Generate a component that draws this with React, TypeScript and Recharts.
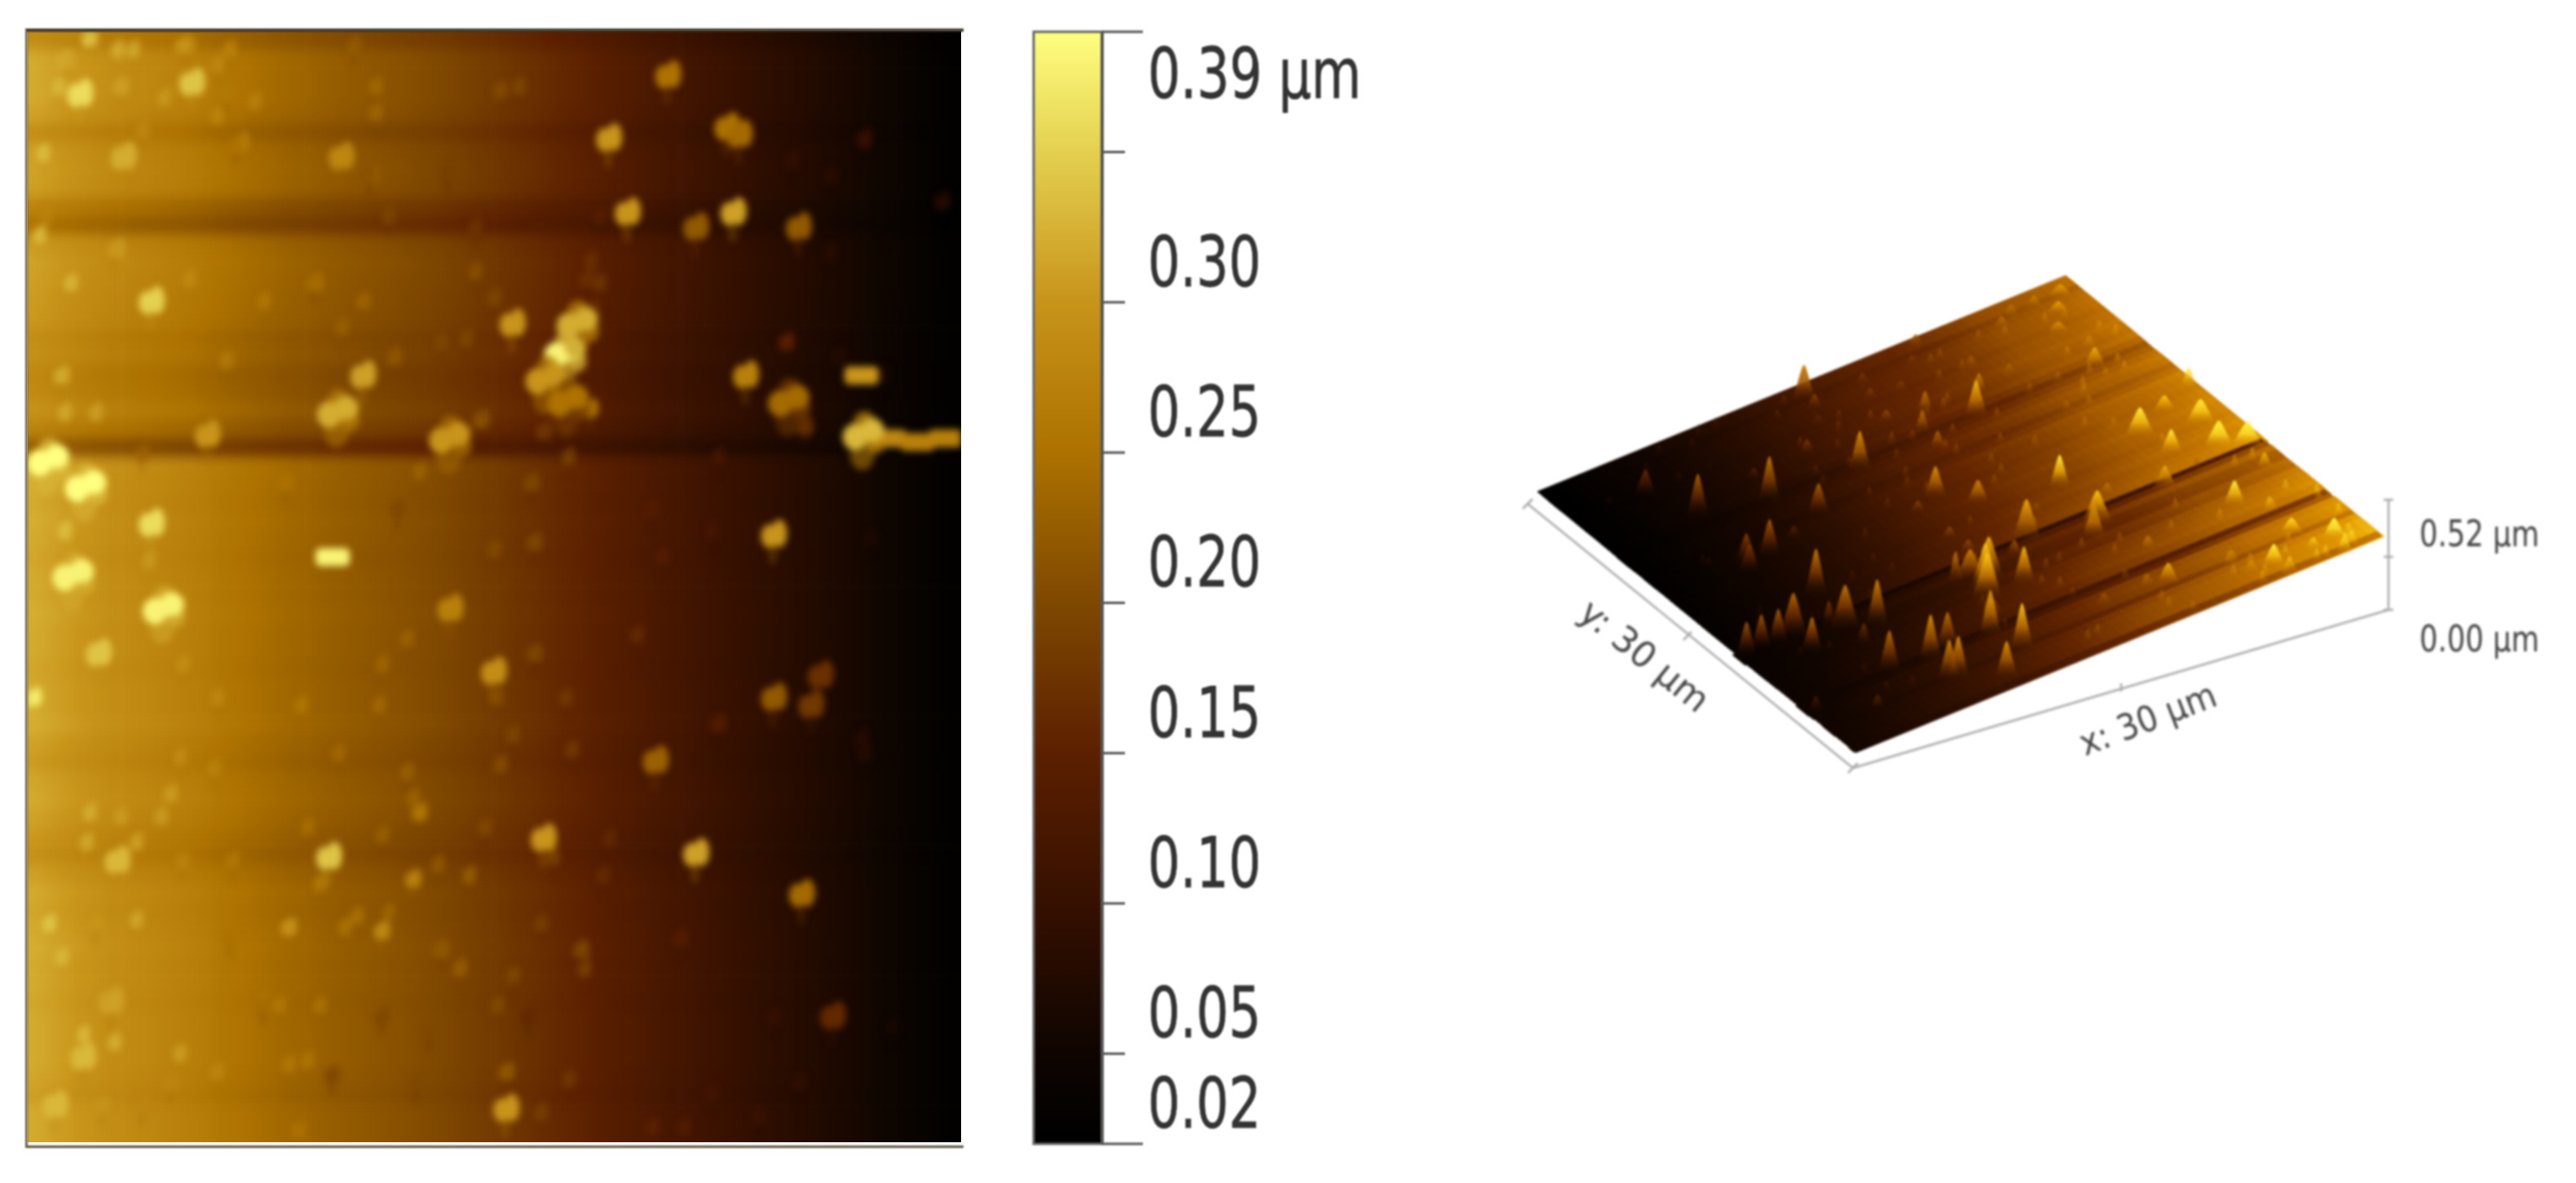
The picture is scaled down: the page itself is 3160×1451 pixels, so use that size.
import React from 'react';
import { BarChart, Bar, ScatterChart, Scatter, XAxis, YAxis, ReferenceLine, ReferenceDot } from 'recharts';

// height scale of the colour bar, um
const scaleLevels = [0.02, 0.05, 0.1, 0.15, 0.2, 0.25, 0.3, 0.35, 0.39];
const scaleColors = [
  [0, 0, 0], [14, 5, 0], [54, 16, 0], [92, 32, 0], [127, 72, 0],
  [173, 114, 0], [200, 148, 26], [228, 208, 80], [255, 255, 128],
];
// the 3D view is rendered with a more saturated palette
const viewColors = [
  [0, 0, 0], [20, 6, 0], [60, 20, 0], [100, 38, 0], [150, 78, 0],
  [190, 112, 0], [222, 148, 0], [250, 200, 20], [255, 240, 60],
];
const barTicks = [0.02, 0.05, 0.1, 0.15, 0.2, 0.25, 0.3, 0.35, 0.39];
const barRange = [{ name: 'height', range: [0.02, 0.39] }];

// height across the scan at a clean line, left to right (0..30 um)
const columnHeights = [
  0.318, 0.312, 0.306, 0.3, 0.295, 0.29, 0.286, 0.282, 0.278, 0.274,
  0.27, 0.264, 0.258, 0.253, 0.248, 0.243, 0.238, 0.234, 0.23, 0.226,
  0.222, 0.219, 0.215, 0.212, 0.208, 0.204, 0.2, 0.195, 0.19, 0.185,
  0.18, 0.175, 0.17, 0.164, 0.159, 0.154, 0.148, 0.142, 0.136, 0.13,
  0.125, 0.12, 0.115, 0.11, 0.105, 0.1, 0.095, 0.09, 0.085, 0.08,
  0.075, 0.07, 0.065, 0.06, 0.054, 0.048, 0.042, 0.036, 0.03, 0.024,
];

// brightness of each scan line, top to bottom
const lineLevels = [
  0.9, 1, 1, 1, 0.98, 0.91, 0.97, 0.98, 0.97, 0.86,
  0.78, 0.96, 0.98, 0.97, 0.96, 0.95, 0.91, 0.92, 0.88, 0.89,
  0.93, 0.86, 0.7, 1.02, 1.01, 1, 1.01, 1, 0.99, 1,
  1, 1.01, 1, 1, 0.99, 1, 1, 1.01, 0.98, 0.96,
  0.99, 1, 0.98, 0.95, 0.92, 0.97, 1, 0.99, 1, 1.01,
  1, 1, 0.99, 1, 1, 1, 0.99, 0.97, 1, 1,
];

// particles: x um, y um, peak height um
const clusters = [
  [17.3, 8.7, 0.38], [17.7, 7.9, 0.32], [16.7, 9.4, 0.3], [17.4, 10, 0.25], [10, 10.3, 0.32],
  [13.6, 11, 0.3], [1.9, 12.3, 0.39], [1.5, 14.7, 0.38], [4.4, 15.6, 0.38], [26.9, 10.9, 0.33],
  [24.5, 10, 0.24], [0.7, 11.6, 0.39],
];
const flakes = [
  [9.8, 14.2, 0.38], [26.8, 9.3, 0.3], [27.7, 11, 0.28], [28.6, 11.1, 0.27], [29.5, 11, 0.27],
];
const blobs = [
  [5.3, 1.4, 0.34], [1.7, 1.7, 0.36], [20.6, 1.2, 0.25], [22.5, 2.6, 0.25], [22.9, 2.8, 0.24],
  [18.7, 2.9, 0.3], [19.3, 4.9, 0.3], [22.7, 4.9, 0.31], [21.5, 5.3, 0.22], [24.8, 5.3, 0.22],
  [10.1, 3.4, 0.28], [3.1, 3.4, 0.32], [4, 7.3, 0.35], [15.6, 7.9, 0.3], [10.8, 9.3, 0.31],
  [23.1, 9.3, 0.27], [5.8, 10.9, 0.3], [4, 13.3, 0.36], [2.3, 16.8, 0.34],
  [15, 17.3, 0.29], [13.6, 15.6, 0.27], [24, 18, 0.22], [20.2, 19.7, 0.23], [16.6, 21.8, 0.3],
  [21.5, 22.2, 0.31], [9.7, 22.3, 0.34], [2.9, 22.4, 0.33], [24.9, 23.3, 0.24], [2.7, 26.2, 0.31],
  [25.9, 26.6, 0.16], [1.8, 27.7, 0.33], [0.9, 29, 0.33], [15.4, 29.1, 0.3], [25.5, 17.4, 0.17],
  [25.2, 18.2, 0.18], [24, 13.6, 0.3],
];
const specks = [
  [1.3, 0.8, 0.31], [3, 1.5, 0.31], [2, 0.2, 0.34], [5, 0.4, 0.3], [6.4, 1.7, 0.26],
  [6.7, 3.1, 0.25], [11, 3.9, 0.21], [13.5, 3.8, 0.19], [26.9, 2.9, 0.1], [29.4, 4.6, 0.08],
  [2.8, 5.9, 0.3], [9.2, 6.8, 0.24], [18, 6.7, 0.17], [24.4, 8.4, 0.15], [1.1, 9.3, 0.32],
  [18.1, 10.2, 0.26], [14.6, 10.5, 0.21], [16.6, 10.8, 0.18], [25, 10.7, 0.17], [16.2, 12.2, 0.2],
  [8.3, 12.2, 0.25], [16.3, 13.8, 0.2], [11.9, 12.9, 0.2], [0.2, 18, 0.38], [16.3, 16.8, 0.2],
  [22.2, 18.7, 0.14], [12.6, 21.1, 0.26], [12.4, 22.9, 0.28], [11.4, 24.3, 0.29], [8.4, 24.2, 0.3],
  [2.2, 24.1, 0.3], [21, 24.5, 0.14], [17.8, 24.8, 0.2], [13.3, 24.8, 0.22], [6.5, 24.5, 0.25],
  [4.6, 28.4, 0.28], [2.4, 29, 0.3], [15.4, 28.1, 0.22], [12.5, 28.4, 0.2], [9.8, 28.2, 0.2],
  [12.9, 27, 0.2], [11.4, 26.6, 0.2], [16.1, 26.6, 0.16], [7.6, 26.3, 0.24], [3.7, 29, 0.28],
  [8.7, 29.7, 0.25],
];
// faint marks: x um, y um, rise above the surface um
const faintMarks = [
  [2.9, 0.5, 0.04], [3.4, 0.5, 0.04], [5.2, 0.4, 0.04], [6.5, 0.5, 0.03], [10.5, 0.4, 0.03], [6.1, 0.9, 0.03],
  [1.2, 0.8, 0.04], [1, 1.5, 0.03], [4.4, 1.8, 0.03], [7.3, 1.9, 0.03], [11.2, 1.5, 0.03], [15.2, 1.6, 0.03],
  [15.8, 1.5, 0.03], [6.1, 2.3, 0.03], [11.2, 2.2, 0.03], [6.9, 3, 0.04], [0.5, 3.3, 0.04], [3.7, 2.7, 0.03],
  [11.1, 3.9, 0.04], [26.9, 3, 0.03], [25.8, 3.9, 0.02], [24.6, 3.5, 0.02], [11.6, 5, 0.03], [18.4, 5, 0.03],
  [0.6, 5, 0.03], [14.4, 5.3, 0.03], [2.9, 5.9, 0.05], [0.4, 5.5, 0.04], [25.8, 6, 0.02], [18.1, 6.2, 0.03],
  [5.2, 6.7, 0.03], [1.4, 6.8, 0.04], [9.3, 6.8, 0.04], [14.4, 6.5, 0.03], [18.4, 6.8, 0.04], [10.8, 7.3, 0.03],
  [7.6, 7.3, 0.03], [15, 7.2, 0.03], [10.1, 8, 0.03], [18.2, 7.5, 0.03], [14.1, 8.3, 0.03], [13.3, 8.4, 0.02],
  [11.8, 8.8, 0.03], [6.4, 8.9, 0.03], [24.4, 8.4, 0.03], [26.1, 8.8, 0.02], [1.2, 10.3, 0.04], [2.2, 10.3, 0.04],
  [14.5, 10.5, 0.04], [27.5, 9.3, 0.03], [3.7, 11.4, 0.03], [17.4, 11.5, 0.04], [12.6, 11.9, 0.03], [22.2, 11.5, 0.02],
  [20.1, 12.9, 0.02], [15, 14, 0.03], [20.4, 14.2, 0.02], [22, 13.5, 0.02], [27.1, 13.7, 0.02], [1.2, 13.5, 0.04],
  [3.9, 14.3, 0.03], [12.2, 16.4, 0.03], [19.6, 16.3, 0.04], [5, 17.1, 0.03], [11.4, 17.1, 0.03], [6.1, 18, 0.03],
  [8.8, 18.2, 0.03], [11.3, 18.2, 0.03], [15.1, 18, 0.03], [17.3, 18, 0.03], [15.6, 19, 0.03], [17.5, 19.4, 0.04],
  [4.9, 19.6, 0.03], [10, 19.5, 0.03], [6, 19.9, 0.03], [12.2, 20, 0.03], [15.2, 19.8, 0.04], [26.8, 19.1, 0.03],
  [26.9, 19.5, 0.03], [4.6, 20.6, 0.04], [12.4, 20.7, 0.03], [2, 21.1, 0.04], [3, 21.2, 0.03], [4.3, 21.2, 0.04],
  [9, 21.5, 0.03], [11.4, 21.7, 0.03], [14.7, 21.5, 0.03], [18.7, 21.8, 0.03], [1.9, 21.9, 0.04], [3.5, 21.9, 0.05],
  [5, 22.4, 0.03], [6.6, 22.4, 0.03], [16.9, 22.3, 0.05], [13.2, 22.5, 0.03], [14.2, 22.8, 0.05], [9.4, 23, 0.04],
  [18.5, 22.8, 0.03], [3.5, 24, 0.04], [0.7, 24.1, 0.04], [10.2, 24.2, 0.04], [10.6, 23.9, 0.04], [11.6, 23.8, 0.03],
  [16.5, 24.1, 0.03], [13.9, 25.3, 0.04], [15.6, 25.5, 0.03], [17.9, 25.3, 0.05], [1.1, 25, 0.03], [7.6, 26.2, 0.03],
  [8.1, 26.3, 0.03], [9.4, 26.3, 0.03], [15.1, 26.3, 0.03], [24, 26.6, 0.02], [27.8, 26.9, 0.02], [1.8, 27.1, 0.04],
  [2.8, 27.3, 0.04], [4.9, 27.6, 0.04], [9, 27.8, 0.03], [8.4, 27.9, 0.03], [6.1, 28.1, 0.03], [17.4, 28.3, 0.03],
  [24.8, 28.4, 0.02], [22, 28.7, 0.02], [23.5, 29.3, 0.02], [20.1, 29.6, 0.03], [21.1, 29.6, 0.03], [16.5, 29.2, 0.03],
];

const paint = (palette: number[][], z: number) => {
  const v = Math.min(0.39, Math.max(0.02, z));
  let i = 0;
  while (i < scaleLevels.length - 2 && v > scaleLevels[i + 1]) i++;
  const t = (v - scaleLevels[i]) / (scaleLevels[i + 1] - scaleLevels[i]);
  const c = palette[i].map((a, k) => Math.round(a + (palette[i + 1][k] - a) * t));
  return `rgb(${c[0]},${c[1]},${c[2]})`;
};
const colorOf = (z: number) => paint(scaleColors, z);

const cols = columnHeights.length;
const rows = lineLevels.length;
const surfaceAt = (c: number, r: number) => 0.02 + (columnHeights[c] - 0.02) * lineLevels[r];
const surfaceUnder = (x: number, y: number) =>
  surfaceAt(Math.min(cols - 1, Math.floor((x / 30) * cols)), Math.min(rows - 1, Math.floor((y / 30) * rows)));

const cells: { x: number; y: number; z: number; level: number; c: number; r: number }[] = [];
lineLevels.forEach((level, r) => {
  columnHeights.forEach((_, c) => {
    cells.push({ x: ((c + 0.5) * 30) / cols, y: ((r + 0.5) * 30) / rows, z: surfaceAt(c, r), level, c, r });
  });
});
const toPoints = (list: number[][]) => list.map(([x, y, z]) => ({ x, y, z }));
const faint = faintMarks.map(([x, y, rise]) => [x, y, surfaceUnder(x, y) + rise]);

// 3D view: page position of a point of the scan
const view = { left: [1886, 603], top: [2534, 338], bottom: [2274, 921] };
const project = (x: number, y: number) => {
  const u = 1 - x / 30;
  const v = 1 - y / 30;
  return {
    v,
    px: view.left[0] + u * (view.top[0] - view.left[0]) + v * (view.bottom[0] - view.left[0]),
    py: view.left[1] + u * (view.top[1] - view.left[1]) + v * (view.bottom[1] - view.left[1]),
  };
};
// low ground reads darker in the 3D view than on the flat map
const shade = (z: number, v: number) => {
  const h = Math.max(0, z - 0.02) / 0.3;
  return 0.02 + Math.pow(h, 1.4) * 0.3 * (0.75 + 0.2 * v) + v * v * 0.03;
};
const surface3d = [...cells]
  .sort((a, b) => b.r - a.r)
  .map((c) => {
    const p = project(c.x, c.y);
    // scan lines stand out more in the tilted view
    const z = 0.02 + (c.z - 0.02) * (1 - (1 - c.level) * 0.9);
    return { x: p.px, y: p.py - (c.level - 1) * 14, r: c.r, fill: paint(viewColors, shade(z, p.v)) };
  });
const peaks3d = (list: number[][]) =>
  list
    .map(([x, y, z]) => {
      const p = project(x, y);
      const base = surfaceUnder(x, y);
      return { x: p.px, y: p.py, z: Math.min(z, base + 0.17), base, v: p.v };
    })
    .sort((a, b) => a.y - b.y);

const cellW = 1145 / cols + 0.6;
const cellH = 1363 / rows + 0.6;
const bleed = 24;
const HeatCell = ({ cx, cy, payload }: any) => {
  const l = payload.c === 0 ? bleed : 0;
  const r = payload.c === cols - 1 ? bleed : 0;
  const t = payload.r === 0 ? bleed : 0;
  const b = payload.r === rows - 1 ? bleed : 0;
  return <rect x={cx - cellW / 2 - l} y={cy - cellH / 2 - t} width={cellW + l + r} height={cellH + t + b} fill={colorOf(payload.z)} />;
};
// particle imprints are lobed with a faint tail under them
const lobes = (rx: number, ry: number, opacity: number) => ({ cx, cy, payload }: any) => {
  const fill = colorOf(payload.z);
  const dim = colorOf(payload.z - 0.05);
  return (
    <g opacity={opacity}>
      <ellipse cx={cx - rx * 0.1} cy={cy + ry * 1.3} rx={rx * 0.3} ry={ry * 0.9} fill={dim} opacity={0.3} />
      <ellipse cx={cx - rx * 0.32} cy={cy + ry * 0.1} rx={rx * 0.55} ry={ry * 0.85} fill={fill} />
      <ellipse cx={cx + rx * 0.32} cy={cy - ry * 0.1} rx={rx * 0.5} ry={ry} fill={fill} />
    </g>
  );
};
const clump = (rx: number, ry: number) => ({ cx, cy, payload }: any) => {
  const fill = colorOf(payload.z);
  const dim = colorOf(payload.z - 0.06);
  return (
    <g>
      <ellipse cx={cx - rx * 0.1} cy={cy + ry * 0.9} rx={rx * 0.5} ry={ry * 0.7} fill={dim} opacity={0.55} />
      <ellipse cx={cx + rx * 0.45} cy={cy + ry * 0.35} rx={rx * 0.4} ry={ry * 0.5} fill={dim} opacity={0.8} />
      <ellipse cx={cx} cy={cy - ry * 0.55} rx={rx * 0.45} ry={ry * 0.5} fill={dim} opacity={0.8} />
      <ellipse cx={cx - rx * 0.4} cy={cy + ry * 0.1} rx={rx * 0.5} ry={ry * 0.6} fill={fill} />
      <ellipse cx={cx + rx * 0.3} cy={cy - ry * 0.2} rx={rx * 0.5} ry={ry * 0.55} fill={fill} />
    </g>
  );
};
const flake = ({ cx, cy, payload }: any) => (
  <rect x={cx - 21} y={cy - 11} width={42} height={22} rx={6} fill={colorOf(payload.z)} />
);

const du = [(view.top[0] - view.left[0]) / cols, (view.top[1] - view.left[1]) / cols];
const dv = [(view.bottom[0] - view.left[0]) / rows, (view.bottom[1] - view.left[1]) / rows];
const Cell3d = ({ cx, cy, payload }: any) => {
  const reach = payload.r === 0 ? 1 : 2.4;
  const a = [cx - du[0] / 2 - dv[0] / 2, cy - du[1] / 2 - dv[1] / 2];
  const d = [dv[0] * reach, dv[1] * reach];
  const pts = [a, [a[0] + du[0], a[1] + du[1]], [a[0] + du[0] + d[0], a[1] + du[1] + d[1]], [a[0] + d[0], a[1] + d[1]]];
  return <polygon points={pts.map((p) => p.join(',')).join(' ')} fill={payload.fill} stroke={payload.fill} strokeWidth={1} />;
};
let gradId = 0;
const peakShape = (halfWidth: number, scale: number, opacity: number) => ({ cx, cy, payload }: any) => {
  const h = Math.max(8, Math.min(62, (payload.z - payload.base) * scale));
  const id = `peak${gradId++}`;
  const w = halfWidth;
  return (
    <g opacity={opacity}>
      <defs>
        <linearGradient id={id} x1="0" y1="0" x2="0" y2="1">
          <stop offset="0%" stopColor={paint(viewColors, shade(payload.z, payload.v) + 0.05)} />
          <stop offset="50%" stopColor={paint(viewColors, shade((payload.z * 2 + payload.base) / 3, payload.v) + 0.02)} stopOpacity={0.85} />
          <stop offset="100%" stopColor={paint(viewColors, shade(payload.base, payload.v))} stopOpacity={0} />
        </linearGradient>
      </defs>
      <path
        d={`M${cx - w},${cy + 8} C${cx - w * 0.55},${cy - h * 0.25} ${cx - w * 0.2},${cy - h} ${cx},${cy - h} C${cx + w * 0.2},${cy - h} ${cx + w * 0.55},${cy - h * 0.25} ${cx + w},${cy + 8} Z`}
        fill={`url(#${id})`}
      />
    </g>
  );
};

const textColor = '#333';
const BarTick = ({ x, y, payload }: any) => {
  const value: number = payload.value;
  const isEnd = value === 0.02 || value === 0.39;
  const isTop = value === 0.39;
  const label = value === 0.35 ? null : isTop ? '0.39 µm' : value.toFixed(2);
  return (
    <g>
      <line x1={x} x2={x + (isEnd ? 50 : 28)} y1={y} y2={y} stroke="#555" strokeWidth={3} />
      {label && (
        <text
          x={x + 56}
          y={isTop ? y + 81 : y - 20}
          fontFamily="DejaVu Sans"
          fontSize={86}
          fill={textColor}
          stroke={textColor}
          strokeWidth={0.8}
          textLength={isTop ? 262 : 139}
          lengthAdjust="spacingAndGlyphs"
        >
          {label}
        </text>
      )}
    </g>
  );
};

const labelShape = (text: string, angle: number, length: number, size: number, anchor: string) => ({ cx, cy }: any) => (
  <text
    x={cx}
    y={cy}
    transform={`rotate(${angle} ${cx} ${cy})`}
    textAnchor={anchor}
    fontFamily="DejaVu Sans"
    fontSize={size}
    fill="#444"
    textLength={length}
    lengthAdjust="spacingAndGlyphs"
  >
    {text}
  </text>
);

const axisLines = [
  [[1874, 618], [2273, 942]],
  [[2273, 942], [2930, 748]],
  [[2930, 613], [2930, 748]],
  [[2065, 785], [2075, 775]],
  [[2602, 848], [2602, 838]],
  [[2924, 683], [2936, 683]],
  [[2924, 613], [2936, 613]],
  [[2924, 748], [2936, 748]],
  [[1868, 624], [1880, 612]],
  [[2267, 948], [2279, 936]],
];

const heatAxes = [
  <XAxis key="x" type="number" dataKey="x" domain={[0, 30]} hide />,
  <YAxis key="y" type="number" dataKey="y" domain={[0, 30]} reversed hide />,
];

export default function App() {
  return (
    <div style={{ position: 'absolute', left: 0, top: 0, width: 3160, height: 1451, background: '#fff', overflow: 'hidden' }}>
      <div style={{ position: 'absolute', left: 34, top: 38, width: 1145, height: 1363, overflow: 'hidden' }}>
        <div style={{ position: 'absolute', left: -bleed, top: -bleed, filter: 'blur(7px)' }}>
          <ScatterChart width={1145 + bleed * 2} height={1363 + bleed * 2} margin={{ top: bleed, right: bleed, bottom: bleed, left: bleed }}>
            {heatAxes}
            <Scatter data={cells} shape={HeatCell} isAnimationActive={false} />
          </ScatterChart>
        </div>
        <div style={{ position: 'absolute', left: 0, top: 0, filter: 'blur(4px)' }}>
          <ScatterChart width={1145} height={1363} margin={{ top: 0, right: 0, bottom: 0, left: 0 }}>
            {heatAxes}
            <Scatter data={toPoints(faint)} shape={lobes(10, 12, 0.7)} isAnimationActive={false} />
            <Scatter data={toPoints(specks)} shape={lobes(12, 12, 0.9)} isAnimationActive={false} />
            <Scatter data={toPoints(blobs)} shape={lobes(19, 17, 1)} isAnimationActive={false} />
            <Scatter data={toPoints(flakes)} shape={flake} isAnimationActive={false} />
            <Scatter data={toPoints(clusters)} shape={clump(30, 27)} isAnimationActive={false} />
          </ScatterChart>
        </div>
      </div>
      <div
        style={{
          position: 'absolute', left: 31, top: 35, width: 1148, height: 1366,
          borderLeft: '3px solid #6b6048', borderTop: '4px solid #3c3428', borderBottom: '3px solid #5c5442',
          filter: 'blur(0.8px)',
        }}
      />

      <div style={{ position: 'absolute', left: 1260, top: 0, filter: 'blur(1px)' }}>
        <BarChart width={530} height={1451} data={barRange} margin={{ top: 39, right: 0, bottom: 48, left: 8 }} barCategoryGap={0}>
          <defs>
            <linearGradient id="heightScale" x1="0" y1="1" x2="0" y2="0">
              {scaleLevels.map((level) => (
                <stop key={level} offset={`${((level - 0.02) / 0.37) * 100}%`} stopColor={colorOf(level)} />
              ))}
            </linearGradient>
          </defs>
          <XAxis dataKey="name" hide />
          <YAxis
            orientation="right"
            width={438}
            type="number"
            domain={[0.02, 0.39]}
            ticks={barTicks}
            interval={0}
            tickSize={0}
            tickMargin={0}
            tick={BarTick}
            axisLine={{ stroke: '#555', strokeWidth: 4 }}
            tickLine={false}
          />
          <Bar dataKey="range" fill="url(#heightScale)" stroke="#666" strokeWidth={3} isAnimationActive={false} />
        </BarChart>
      </div>

      <div style={{ position: 'absolute', left: 1840, top: 300, filter: 'blur(1.4px)' }}>
        <ScatterChart width={1320} height={660} margin={{ top: 0, right: 0, bottom: 0, left: 0 }}>
          <XAxis type="number" dataKey="x" domain={[1840, 3160]} hide />
          <YAxis type="number" dataKey="y" domain={[300, 960]} reversed hide />
          <Scatter data={surface3d} shape={Cell3d} isAnimationActive={false} />
          <Scatter data={peaks3d(faint)} shape={peakShape(6, 220, 0.45)} isAnimationActive={false} />
          <Scatter data={peaks3d(specks)} shape={peakShape(10, 260, 0.8)} isAnimationActive={false} />
          <Scatter data={peaks3d(flakes)} shape={peakShape(14, 220, 1)} isAnimationActive={false} />
          <Scatter data={peaks3d(blobs)} shape={peakShape(15, 300, 1)} isAnimationActive={false} />
          <Scatter data={peaks3d(clusters)} shape={peakShape(20, 300, 1)} isAnimationActive={false} />
          {axisLines.map((seg, i) => (
            <ReferenceLine
              key={i}
              segment={[{ x: seg[0][0], y: seg[0][1] }, { x: seg[1][0], y: seg[1][1] }]}
              stroke="#a8a8a8"
              strokeWidth={2.5}
              ifOverflow="visible"
            />
          ))}
          <ReferenceDot x={2008} y={816} r={0} ifOverflow="visible" shape={labelShape('y: 30 µm', 39, 190, 44, 'middle')} />
          <ReferenceDot x={2640} y={896} r={0} ifOverflow="visible" shape={labelShape('x: 30 µm', -21, 176, 44, 'middle')} />
          <ReferenceDot x={2968} y={670} r={0} ifOverflow="visible" shape={labelShape('0.52 µm', 0, 147, 44, 'start')} />
          <ReferenceDot x={2968} y={799} r={0} ifOverflow="visible" shape={labelShape('0.00 µm', 0, 147, 44, 'start')} />
        </ScatterChart>
      </div>
    </div>
  );
}
